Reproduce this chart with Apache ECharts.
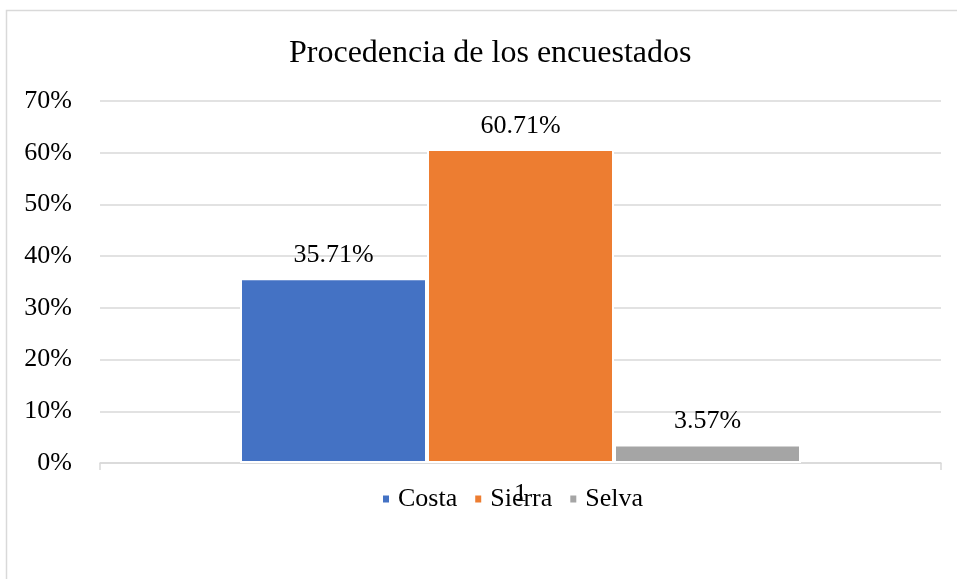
<!DOCTYPE html>
<html>
<head>
<meta charset="utf-8">
<script src="https://cdn.jsdelivr.net/npm/echarts@6/dist/echarts.min.js"></script>
<style>
	html, body {
		margin: 0;
		background: #fff;
	}
	#chart {
		width: 957px;
		height: 579px;
	}
</style>
</head>
<body>
<div id="chart"></div>
<script>
const categories = ["1"];
const seriesNames = ["Costa", "Sierra", "Selva"];
const costa = [35.71];
const sierra = [60.71];
const selva = [3.57];
const yTicks = [0, 10, 20, 30, 40, 50, 60, 70];

const font = "'Liberation Serif', 'Times New Roman', serif";
const colors = ["#4472c4", "#ed7d31", "#a5a5a5"];

const chart = echarts.init(document.getElementById("chart"));

function barSeries(name, data) {
	return {
		name: name,
		type: "bar",
		data: data,
		barWidth: 187,
		barGap: "0%",
		itemStyle: {
			borderColor: "#fff",
			borderWidth: 2
		},
		label: {
			show: true,
			position: "top",
			distance: 10,
			formatter: "{c}%",
			color: "#000",
			fontFamily: font,
			fontSize: 26
		}
	};
}

chart.setOption({
	animation: false,
	color: colors,
	graphic: [
		{
			type: "rect",
			shape: {x: 6.5, y: 10.5, width: 1000, height: 620},
			style: {fill: "none", stroke: "#d9d9d9", lineWidth: 1.5}
		}
	],
	title: {
		text: "Procedencia de los encuestados",
		left: 284,
		top: 33,
		textStyle: {
			fontFamily: font,
			fontSize: 32,
			fontWeight: "normal",
			color: "#000"
		}
	},
	legend: {
		data: seriesNames,
		left: 376,
		top: 481,
		icon: "rect",
		itemWidth: 8,
		itemHeight: 9,
		itemGap: 16,
		textStyle: {
			fontFamily: font,
			fontSize: 26,
			color: "#000",
			padding: [0, 0, 0, 3]
		}
	},
	grid: {
		left: 100,
		right: 16,
		top: 101,
		bottom: 116
	},
	xAxis: {
		type: "category",
		data: categories,
		axisLine: {lineStyle: {color: "#d9d9d9", width: 1.5}},
		axisTick: {show: true, length: 7, lineStyle: {color: "#d9d9d9", width: 1.5}},
		axisLabel: {
			margin: 18,
			color: "#000",
			fontFamily: font,
			fontSize: 26
		}
	},
	yAxis: {
		type: "value",
		min: yTicks[0],
		max: yTicks[yTicks.length - 1],
		interval: 10,
		axisLine: {show: false},
		axisTick: {show: false},
		axisLabel: {
			margin: 28,
			formatter: "{value}%",
			color: "#000",
			fontFamily: font,
			fontSize: 26
		},
		splitLine: {lineStyle: {color: "#d9d9d9", width: 1.5}}
	},
	series: [
		barSeries(seriesNames[0], costa),
		barSeries(seriesNames[1], sierra),
		barSeries(seriesNames[2], selva)
	]
});
</script>
</body>
</html>
